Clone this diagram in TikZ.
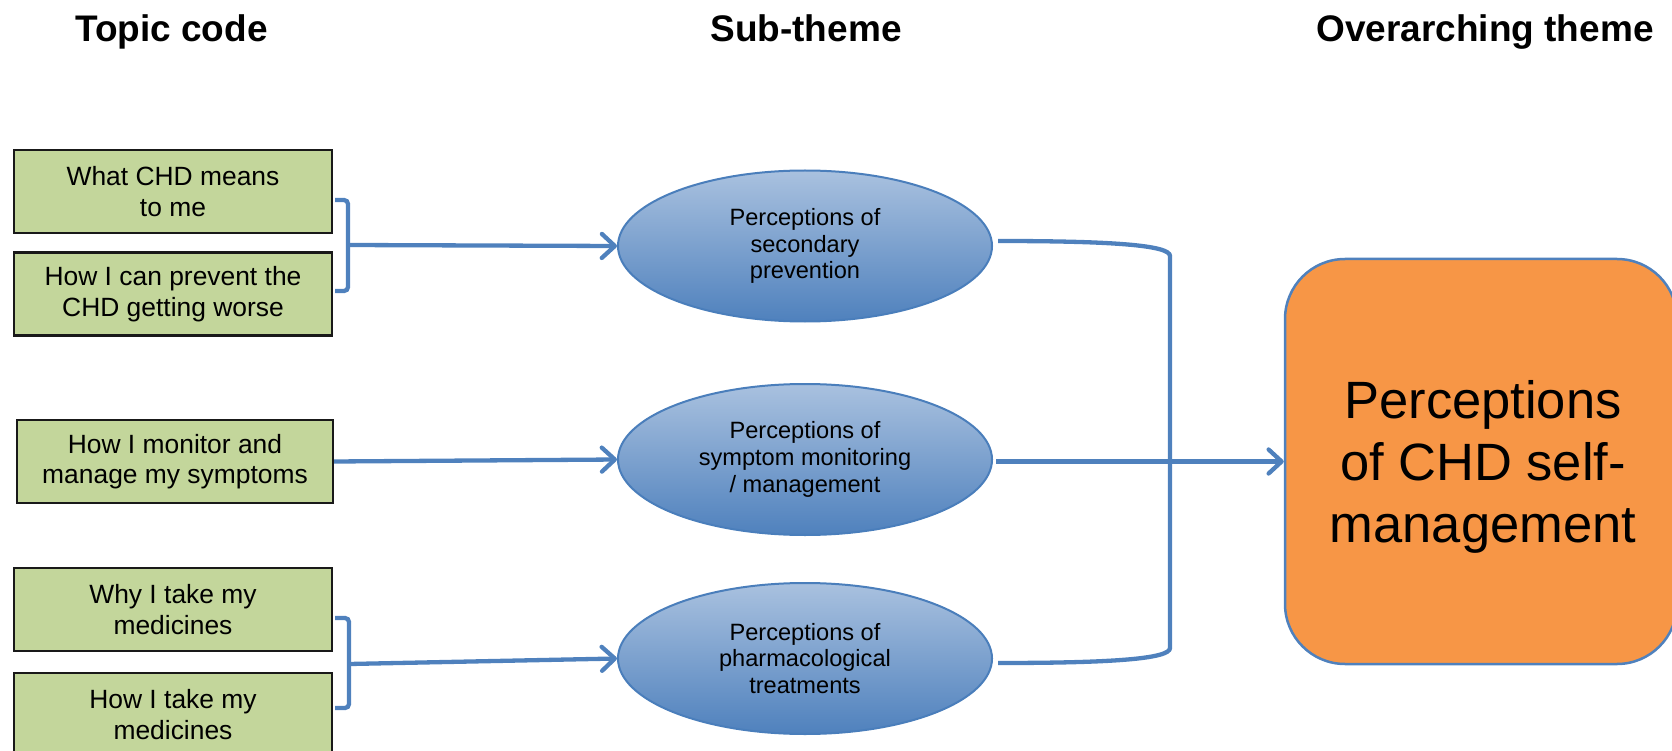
\documentclass[tikz,border=0pt]{standalone}
\usepackage{fontspec}
\setmainfont{Liberation Sans}
\usetikzlibrary{shapes.geometric,arrows.meta,calc}

\definecolor{codefill}{HTML}{C3D69B}
\definecolor{linkblue}{HTML}{4F81BD}
\definecolor{ellTop}{HTML}{A9C1DF}
\definecolor{ellBot}{HTML}{4F81BD}
\definecolor{ellLine}{HTML}{4A7EBB}
\definecolor{themefill}{HTML}{F79646}

\begin{document}
\begin{tikzpicture}[x=1pt,y=-1pt,
  header/.style={font=\fontsize{37}{44}\selectfont\bfseries, anchor=base},
  codebox/.style={draw=black!90, line width=2.2pt, fill=codefill,
    minimum width=318pt, minimum height=83pt, inner sep=0pt, align=center,
    font=\fontsize{26.4}{30.5}\selectfont},
  subtheme/.style={ellipse, draw=ellLine, line width=2pt,
    top color=ellTop, bottom color=ellBot,
    minimum width=374pt, minimum height=151pt, inner sep=0pt, align=center,
    font=\fontsize{23.6}{26.7}\selectfont},
  theme/.style={rounded corners=60pt, draw=linkblue, line width=2.5pt, fill=themefill,
    minimum width=392pt, minimum height=405pt, inner sep=0pt, align=center,
    font=\fontsize{52.5}{62}\selectfont},
  link/.style={draw=linkblue, line width=4.3pt},
  arrowlink/.style={link, -{Straight Barb[length=13pt,width=24pt,round]}},
  bracket/.style={link, rounded corners=4pt},
]
\useasboundingbox (0,0) rectangle (1672,751);

% column headings
\node[header] (hcode)  at (171.5,42) {Topic code};
\node[header] (hsub)   at (806,42)   {Sub-theme};
\node[header] (htheme) at (1485,42)  {Overarching theme};

% topic codes
\node[codebox] (c1) at (173,191.5) {What CHD means\\to me};
\node[codebox] (c2) at (173,294)   {How I can prevent the\\CHD getting worse};
\node[codebox, minimum width=316pt] (c3) at (175,461.5) {How I monitor and\\manage my symptoms};
\node[codebox] (c4) at (173,609.5) {Why I take my\\medicines};
\node[codebox] (c5) at (173,714.5) {How I take my\\medicines};

% sub-themes
\node[subtheme] (s1) at (805,246)   {Perceptions of\\secondary\\prevention};
\node[subtheme] (s2) at (805,459.5) {Perceptions of\\symptom monitoring\\/ management};
\node[subtheme] (s3) at (805,658.5) {Perceptions of\\pharmacological\\treatments};

% overarching theme (box drawn first, its text set a little lower)
\node[theme] (t) at (1481,461.5) {};
\node[align=center, inner sep=0pt, font=\fontsize{52.5}{62}\selectfont] (tlabel)
  at ($(t.center)+(2,5)$) {Perceptions\\of CHD self-\\management};

% codes -> sub-themes
\coordinate (j1) at (348,245);
\coordinate (j2) at (349,664);
\draw[bracket] ($(c1.east)+(2,8.5)$) -- (348,200) -- (348,291) -- ($(c2.east)+(2,-3)$);
\draw[arrowlink] (j1) -- (s1.west);
\draw[arrowlink] (c3.east) -- (s2.west);
\draw[bracket] ($(c4.east)+(2,8.5)$) -- (349,618) -- (349,708) -- ($(c5.east)+(2,-6.5)$);
\draw[arrowlink] (j2) -- (s3.west);

% sub-themes -> overarching theme
\draw[link] ($(s1.east)+(5,-5)$) .. controls (1110,241) and (1170,245) .. (1170,256)
  -- (1170,648) .. controls (1170,659) and (1110,663) .. ($(s3.east)+(5,4.5)$);
\draw[arrowlink] ($(s2.east)+(3,2)$) -- (t.west);
\end{tikzpicture}
\end{document}
